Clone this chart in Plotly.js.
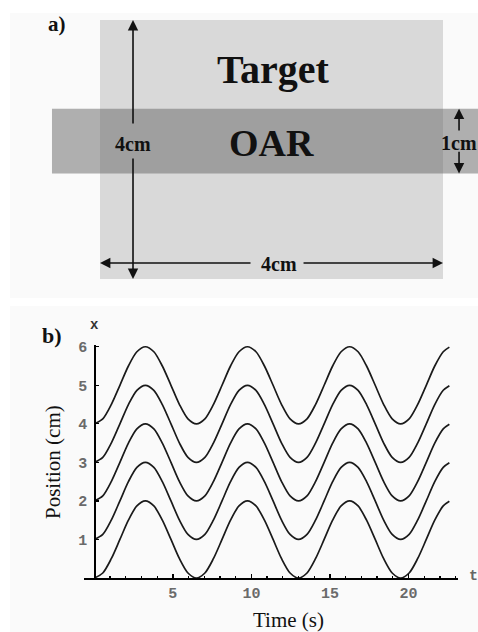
<!DOCTYPE html>
<html>
<head>
<meta charset="utf-8">
<script src="https://cdn.plot.ly/plotly-3.0.1.min.js"></script>
<style>
  html, body { margin: 0; padding: 0; background: #ffffff; }
  #chart { width: 478px; height: 632px; }
</style>
</head>
<body>
<div id="chart"></div>
<script>
// ---- panel a: geometry of the target and the organ at risk (cm) ----
const targetX = [0, 4];
const targetY = [0, 4];
const oarX = [-0.56, 4.6];
const oarY = [1.63, 2.63];
const regionNames = ['Target', 'OAR'];
const sizeLabels = ['4cm', '4cm', '1cm'];

// ---- panel b: position of the five tracked points over time ----
const time = [0, 0.54, 1.08, 1.63, 2.17, 2.71, 3.25, 3.79, 4.33, 4.88, 5.42, 5.96,
              6.5, 7.04, 7.58, 8.13, 8.67, 9.21, 9.75, 10.29, 10.83, 11.38, 11.92, 12.46,
              13.0, 13.54, 14.08, 14.63, 15.17, 15.71, 16.25, 16.79, 17.33, 17.88, 18.42, 18.96,
              19.5, 20.04, 20.58, 21.13, 21.67, 22.21, 22.6];
const pos0 = [0, 0.13, 0.5, 1, 1.5, 1.87, 2, 1.87, 1.5, 1, 0.5, 0.13,
              0, 0.13, 0.5, 1, 1.5, 1.87, 2, 1.87, 1.5, 1, 0.5, 0.13,
              0, 0.13, 0.5, 1, 1.5, 1.87, 2, 1.87, 1.5, 1, 0.5, 0.13,
              0, 0.13, 0.5, 1, 1.5, 1.87, 1.99];
const pos1 = [1, 1.13, 1.5, 2, 2.5, 2.87, 3, 2.87, 2.5, 2, 1.5, 1.13,
              1, 1.13, 1.5, 2, 2.5, 2.87, 3, 2.87, 2.5, 2, 1.5, 1.13,
              1, 1.13, 1.5, 2, 2.5, 2.87, 3, 2.87, 2.5, 2, 1.5, 1.13,
              1, 1.13, 1.5, 2, 2.5, 2.87, 2.99];
const pos2 = [2, 2.13, 2.5, 3, 3.5, 3.87, 4, 3.87, 3.5, 3, 2.5, 2.13,
              2, 2.13, 2.5, 3, 3.5, 3.87, 4, 3.87, 3.5, 3, 2.5, 2.13,
              2, 2.13, 2.5, 3, 3.5, 3.87, 4, 3.87, 3.5, 3, 2.5, 2.13,
              2, 2.13, 2.5, 3, 3.5, 3.87, 3.99];
const pos3 = [3, 3.13, 3.5, 4, 4.5, 4.87, 5, 4.87, 4.5, 4, 3.5, 3.13,
              3, 3.13, 3.5, 4, 4.5, 4.87, 5, 4.87, 4.5, 4, 3.5, 3.13,
              3, 3.13, 3.5, 4, 4.5, 4.87, 5, 4.87, 4.5, 4, 3.5, 3.13,
              3, 3.13, 3.5, 4, 4.5, 4.87, 4.99];
const pos4 = [4, 4.13, 4.5, 5, 5.5, 5.87, 6, 5.87, 5.5, 5, 4.5, 4.13,
              4, 4.13, 4.5, 5, 5.5, 5.87, 6, 5.87, 5.5, 5, 4.5, 4.13,
              4, 4.13, 4.5, 5, 5.5, 5.87, 6, 5.87, 5.5, 5, 4.5, 4.13,
              4, 4.13, 4.5, 5, 5.5, 5.87, 5.99];
const xTickVals = [5, 10, 15, 20];
const yTickVals = [1, 2, 3, 4, 5, 6];

// ---- page geometry helpers (pixels -> paper fractions) ----
const W = 478, H = 632;
const px = v => v / W;
const py = v => 1 - v / H;

const SERIF = 'Liberation Serif, Times New Roman, serif';
const MONO = 'Liberation Mono, Courier New, monospace';
const INK = '#111111';
const TICKFONT = { family: MONO, size: 15, color: '#6a6a6a', weight: 'bold' };

const series = [pos0, pos1, pos2, pos3, pos4];
const traces = series.map(s => ({
  type: 'scatter', mode: 'lines',
  x: time, y: s,
  xaxis: 'x', yaxis: 'y',
  line: { color: '#1a1a1a', width: 1.7, shape: 'spline', smoothing: 0.8 },
  hoverinfo: 'skip', showlegend: false
}));
// empty trace so the diagram subplot exists
traces.push({ type: 'scatter', x: [], y: [], xaxis: 'x2', yaxis: 'y2',
              hoverinfo: 'skip', showlegend: false });

const shapes = [
  // panel backgrounds
  { type: 'rect', xref: 'paper', yref: 'paper', layer: 'below',
    x0: px(10), x1: px(478), y0: py(298), y1: py(13),
    fillcolor: '#fafafa', line: { width: 0 } },
  { type: 'rect', xref: 'paper', yref: 'paper', layer: 'below',
    x0: px(10), x1: px(478), y0: py(632), y1: py(306),
    fillcolor: '#fafafa', line: { width: 0 } },
  // target volume
  { type: 'rect', xref: 'x2', yref: 'y2', layer: 'below',
    x0: targetX[0], x1: targetX[1], y0: targetY[0], y1: targetY[1],
    fillcolor: '#d9d9d9', line: { width: 0 } },
  // organ at risk band
  { type: 'rect', xref: 'x2', yref: 'y2', layer: 'below',
    x0: oarX[0], x1: oarX[1], y0: oarY[0], y1: oarY[1],
    fillcolor: 'rgb(106,106,106)', opacity: 0.52, line: { width: 0 } }
];

// dimension arrows of the diagram
const arrow = (x, y, ax, ay) => ({
  xref: 'x2', yref: 'y2', axref: 'x2', ayref: 'y2',
  x: x, y: y, ax: ax, ay: ay, text: '',
  showarrow: true, arrowhead: 2, arrowsize: 1.3, arrowwidth: 1.6,
  arrowcolor: INK, standoff: 0, startstandoff: 0
});
const vX = 0.385, hY = 0.247, rX = 4.187;
const label = (text, x, y, size, extra) => Object.assign({
  text: text, x: x, y: y, showarrow: false,
  xanchor: 'center', yanchor: 'middle',
  font: { family: SERIF, size: size, color: INK, weight: 'bold' }
}, extra || {});

const annotations = [
  arrow(vX, targetY[1], vX, 2.378),
  arrow(vX, targetY[0], vX, 1.884),
  arrow(targetX[0], hY, 1.773, hY),
  arrow(targetX[1], hY, 2.356, hY),
  arrow(rX, oarY[1], rX, 2.27),
  arrow(rX, oarY[0], rX, 1.99),
  label(regionNames[0], 2.02, 3.228, 40, { xref: 'x2', yref: 'y2' }),
  label(regionNames[1], 2.0, 2.10, 38, { xref: 'x2', yref: 'y2' }),
  label(sizeLabels[0], vX, 2.085, 20, { xref: 'x2', yref: 'y2' }),
  label(sizeLabels[1], 2.087, hY - 0.02, 20, { xref: 'x2', yref: 'y2' }),
  label(sizeLabels[2], rX, 2.10, 20, { xref: 'x2', yref: 'y2' }),
  label('a)', px(57), py(24), 21, { xref: 'paper', yref: 'paper' }),
  label('b)', px(52), py(336), 22, { xref: 'paper', yref: 'paper' }),
  label('Position (cm)', px(53), py(462), 21,
        { xref: 'paper', yref: 'paper', textangle: -90,
          font: { family: SERIF, size: 21, color: INK } }),
  label('Time (s)', px(288), py(620), 21,
        { xref: 'paper', yref: 'paper',
          font: { family: SERIF, size: 21, color: INK } }),
  label('x', px(94), py(325), 13,
        { xref: 'paper', yref: 'paper',
          font: { family: MONO, size: 14, color: '#333', weight: 'bold' } }),
  label('t', px(473), py(576), 14,
        { xref: 'paper', yref: 'paper',
          font: { family: MONO, size: 15, color: '#666', weight: 'bold' } })
];

const layout = {
  width: W, height: H,
  margin: { l: 0, r: 0, t: 0, b: 0, pad: 0 },
  paper_bgcolor: '#ffffff', plot_bgcolor: 'rgba(0,0,0,0)',
  showlegend: false,
  xaxis: {
    domain: [px(84), px(458)], range: [-0.656, 23.15], anchor: 'y',
    showline: true, linecolor: '#000', linewidth: 1.6,
    showgrid: false, zeroline: false,
    ticks: 'inside', ticklen: 4, tickwidth: 1.3, tickcolor: '#000',
    tickmode: 'array', tickvals: xTickVals,
    ticktext: xTickVals.map(String),
    ticklabelstandoff: 0,
    tickfont: TICKFONT,
    minor: { tick0: 0, dtick: 1, ticks: 'inside', ticklen: 2.5,
             tickwidth: 1.3, tickcolor: '#000', showgrid: false }
  },
  yaxis: {
    domain: [py(578), py(345.2)], range: [0, 6.04],
    anchor: 'free', position: px(94.3),
    showline: true, linecolor: '#000', linewidth: 1.6,
    showgrid: false, zeroline: false,
    ticks: 'inside', ticklen: 3, tickwidth: 1.3, tickcolor: '#000',
    tickmode: 'array', tickvals: yTickVals,
    ticktext: yTickVals.map(String),
    ticklabelstandoff: 4,
    tickfont: TICKFONT
  },
  xaxis2: {
    domain: [0, 1], range: [-100 / 85.75, 378 / 85.75], anchor: 'y2',
    visible: false, fixedrange: true
  },
  yaxis2: {
    domain: [py(300), 1], range: [-21 / 64.75, 4 + 20 / 64.75], anchor: 'x2',
    visible: false, fixedrange: true
  },
  shapes: shapes,
  annotations: annotations
};

Plotly.newPlot('chart', traces, layout, { displayModeBar: false, staticPlot: true });
</script>
</body>
</html>
